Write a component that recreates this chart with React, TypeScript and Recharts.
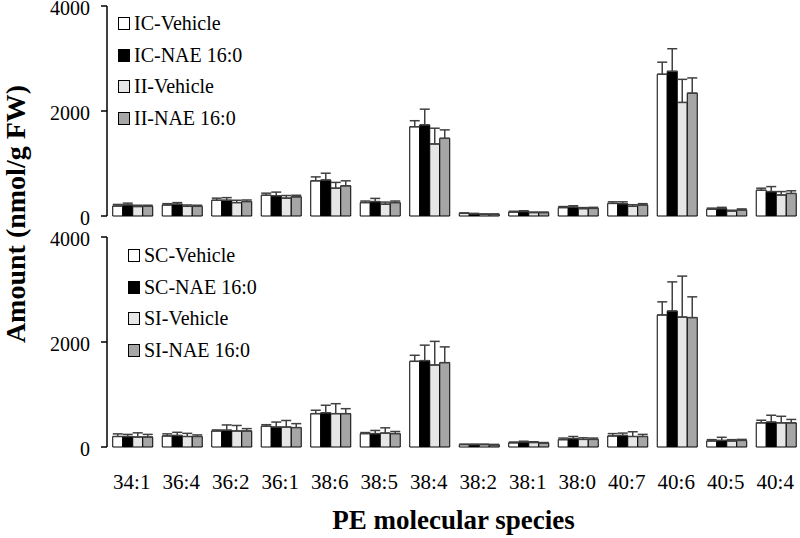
import React from 'react';
import { BarChart, Bar, XAxis, YAxis, ErrorBar, Legend } from 'recharts';

const species = ['34:1', '36:4', '36:2', '36:1', '38:6', '38:5', '38:4', '38:2', '38:1', '38:0', '40:7', '40:6', '40:5', '40:4'];

// top panel
const icVehicle = [190, 210, 300, 395, 670, 255, 1700, 50, 75, 160, 240, 2700, 130, 490];
const icNae = [210, 225, 300, 385, 685, 275, 1735, 40, 85, 170, 235, 2756, 140, 465];
const iiVehicle = [180, 185, 255, 340, 530, 225, 1372, 30, 65, 140, 185, 2163, 95, 400];
const iiNae = [185, 185, 275, 365, 575, 255, 1480, 30, 65, 145, 210, 2340, 115, 430];
const icVehicleErr = [30, 25, 40, 40, 75, 30, 115, 10, 15, 20, 30, 230, 20, 40];
const icNaeErr = [35, 30, 50, 70, 130, 60, 300, 10, 15, 25, 35, 430, 25, 95];
const iiVehicleErr = [25, 25, 45, 50, 110, 40, 300, 10, 10, 20, 30, 440, 15, 65];
const iiNaeErr = [20, 20, 30, 30, 95, 30, 160, 10, 10, 20, 25, 290, 20, 50];

// bottom panel
const scVehicle = [200, 210, 305, 395, 635, 255, 1632, 45, 80, 140, 210, 2515, 115, 460];
const scNae = [200, 220, 320, 380, 650, 255, 1645, 45, 95, 160, 220, 2590, 125, 475];
const siVehicle = [190, 200, 305, 380, 635, 265, 1562, 45, 85, 145, 200, 2475, 115, 460];
const siNae = [190, 200, 305, 370, 635, 255, 1607, 40, 75, 145, 200, 2465, 125, 460];
const scVehicleErr = [50, 40, 20, 30, 65, 20, 115, 10, 15, 30, 45, 250, 25, 50];
const scNaeErr = [40, 60, 100, 95, 145, 60, 295, 10, 15, 40, 45, 555, 60, 130];
const siVehicleErr = [80, 60, 105, 125, 190, 100, 450, 10, 15, 30, 90, 780, 25, 125];
const siNaeErr = [50, 30, 45, 75, 95, 40, 300, 10, 10, 25, 40, 395, 20, 65];

const topNames = ['IC-Vehicle', 'IC-NAE 16:0', 'II-Vehicle', 'II-NAE 16:0'];
const bottomNames = ['SC-Vehicle', 'SC-NAE 16:0', 'SI-Vehicle', 'SI-NAE 16:0'];

const yTicks = [0, 2000, 4000];
const frameTicks = species.map((_, i) => i).concat([species.length]);

const serif = '"Liberation Serif", "Times New Roman", serif';
const fills = ['#ffffff', '#000000', '#e6e6e6', '#a6a6a6'];

const buildRows = (vals: number[][], errs: number[][]) =>
  species.map((name, i) => {
    const row: any = { name, idx: i + 0.5 };
    vals.forEach((v, k) => {
      row[`v${k}`] = v[i];
      row[`e${k}`] = [0, errs[k][i]];
    });
    return row;
  });

const topData = buildRows([icVehicle, icNae, iiVehicle, iiNae], [icVehicleErr, icNaeErr, iiVehicleErr, iiNaeErr]);
const bottomData = buildRows([scVehicle, scNae, siVehicle, siNae], [scVehicleErr, scNaeErr, siVehicleErr, siNaeErr]);

// legend keeps series order (recharts sorts by name otherwise)
const LegendList = ({ payload, order }: any) => {
  const items = [...(payload || [])].sort((a: any, b: any) => order.indexOf(a.value) - order.indexOf(b.value));
  return (
    <div style={{ fontFamily: serif, fontSize: 20, color: '#000' }}>
      {items.map((p: any) => (
        <div key={p.value} style={{ display: 'flex', alignItems: 'center', height: 31.5 }}>
          <span
            style={{
              display: 'inline-block',
              width: 10,
              height: 11,
              border: '1px solid #000',
              background: p.color,
              marginRight: 4,
            }}
          />
          <span>{p.value}</span>
        </div>
      ))}
    </div>
  );
};

interface PanelProps {
  data: any[];
  names: string[];
  height: number;
  top: number;
  bottom: number;
  labelHeight: number;
  legendLeft: number;
  legendTop: number;
}

const Panel = ({ data, names, height, top, bottom, labelHeight, legendLeft, legendTop }: PanelProps) => {
  const showLabels = labelHeight > 0;
  return (
    <BarChart
      width={800}
      height={height}
      data={data}
      margin={{ top, right: 0, bottom, left: 0 }}
      barCategoryGap="11.6%"
      barGap={0}
    >
      <XAxis
        xAxisId="frame"
        dataKey="idx"
        type="number"
        domain={[0, species.length]}
        allowDataOverflow
        ticks={frameTicks}
        tickFormatter={() => ''}
        tickSize={5}
        height={0}
        axisLine={{ stroke: '#000', strokeWidth: 1.5 }}
        tickLine={{ stroke: '#000', strokeWidth: 1.5 }}
      />
      <XAxis
        xAxisId="cat"
        dataKey="name"
        hide={!showLabels}
        axisLine={false}
        tickLine={false}
        tickSize={0}
        tickMargin={27}
        interval={0}
        height={labelHeight}
        tick={{ fontSize: 21, fill: '#000', fontFamily: serif }}
        label={
          showLabels
            ? {
                value: 'PE molecular species',
                position: 'insideBottom',
                offset: 9,
                style: { fontSize: 27, fontWeight: 'bold', fill: '#000', fontFamily: serif },
              }
            : undefined
        }
      />
      <YAxis
        width={107}
        domain={[0, 4000]}
        ticks={yTicks}
        interval={0}
        tickSize={6}
        tickMargin={11}
        axisLine={{ stroke: '#000', strokeWidth: 1.5 }}
        tickLine={{ stroke: '#000', strokeWidth: 1.5 }}
        tick={{ fontSize: 20, fill: '#000', fontFamily: serif, dy: 2 }}
      />
      <Legend
        layout="vertical"
        align="center"
        verticalAlign="middle"
        content={<LegendList order={names} />}
        wrapperStyle={{ left: legendLeft, top: legendTop, width: 200, height: 130 }}
      />
      {names.map((n, k) => (
        <Bar
          key={n}
          xAxisId="cat"
          dataKey={`v${k}`}
          name={n}
          fill={fills[k]}
          stroke="#000"
          strokeWidth={1}
          isAnimationActive={false}
        >
          <ErrorBar dataKey={`e${k}`} direction="y" width={5} stroke="#404040" strokeWidth={1.5} />
        </Bar>
      ))}
    </BarChart>
  );
};

export default function App() {
  return (
    <div style={{ position: 'absolute', left: 0, top: 0, width: 800, height: 538, background: '#fff' }}>
      <div style={{ position: 'absolute', left: 0, top: 0 }}>
        <Panel
          data={topData}
          names={topNames}
          height={232}
          top={6}
          bottom={16}
          labelHeight={0}
          legendLeft={118}
          legendTop={8}
        />
      </div>
      <div style={{ position: 'absolute', left: 0, top: 222 }}>
        <Panel
          data={bottomData}
          names={bottomNames}
          height={316}
          top={15}
          bottom={0}
          labelHeight={91}
          legendLeft={128}
          legendTop={18}
        />
      </div>
      <svg style={{ position: 'absolute', left: 0, top: 0 }} width={40} height={538}>
        <text
          transform="translate(15, 214) rotate(-90)"
          textAnchor="middle"
          dominantBaseline="central"
          style={{ fontSize: 28, fontWeight: 'bold', fontFamily: serif, fill: '#000' }}
        >
          Amount (nmol/g FW)
        </text>
      </svg>
    </div>
  );
}
